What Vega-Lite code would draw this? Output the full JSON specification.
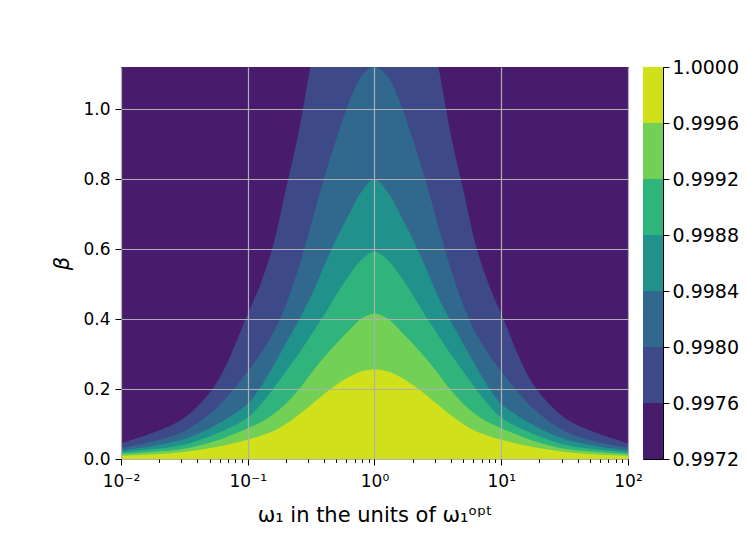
{
  "$schema": "https://vega.github.io/schema/vega-lite/v6.json",
  "padding": {"left": 51, "top": 57, "right": 0, "bottom": 0},
  "bounds": "flush",
  "spacing": 15,
  "config": {
    "font": "DejaVu Sans",
    "view": {"stroke": "#000000", "strokeWidth": 1},
    "axis": {"domain": false, "tickColor": "#000000", "tickWidth": 1, "tickSize": 6, "labelColor": "#000000", "labelPadding": 5, "titleColor": "#000000", "titleFontWeight": "normal"}
  },
  "datasets": {
    "contours": [
      {"l":"L0","w":0.01,"b":1.12},{"l":"L0","w":100,"b":1.12},
      {"l":"L1","w":0.01,"b":0.045},{"l":"L1","w":0.017783,"b":0.075},{"l":"L1","w":0.031623,"b":0.118},{"l":"L1","w":0.056234,"b":0.215},{"l":"L1","w":0.1,"b":0.415},{"l":"L1","w":0.12589,"b":0.50},{"l":"L1","w":0.15849,"b":0.61},{"l":"L1","w":0.19953,"b":0.77},{"l":"L1","w":0.25119,"b":0.93},{"l":"L1","w":0.31623,"b":1.13},{"l":"L1","w":0.39811,"b":1.3},{"l":"L1","w":0.50119,"b":1.3},{"l":"L1","w":0.63096,"b":1.3},{"l":"L1","w":0.79433,"b":1.3},{"l":"L1","w":1,"b":1.3},{"l":"L1","w":1.2589,"b":1.3},{"l":"L1","w":1.5849,"b":1.3},{"l":"L1","w":1.9953,"b":1.3},{"l":"L1","w":2.5119,"b":1.3},{"l":"L1","w":3.1623,"b":1.13},{"l":"L1","w":3.9811,"b":0.93},{"l":"L1","w":5.0119,"b":0.77},{"l":"L1","w":6.3096,"b":0.61},{"l":"L1","w":7.9433,"b":0.50},{"l":"L1","w":10,"b":0.415},{"l":"L1","w":17.783,"b":0.215},{"l":"L1","w":31.623,"b":0.118},{"l":"L1","w":56.234,"b":0.075},{"l":"L1","w":100,"b":0.045},
      {"l":"L2","w":0.01,"b":0.032},{"l":"L2","w":0.017783,"b":0.050},{"l":"L2","w":0.031623,"b":0.080},{"l":"L2","w":0.056234,"b":0.145},{"l":"L2","w":0.1,"b":0.25},{"l":"L2","w":0.12589,"b":0.30},{"l":"L2","w":0.15849,"b":0.36},{"l":"L2","w":0.19953,"b":0.44},{"l":"L2","w":0.25119,"b":0.545},{"l":"L2","w":0.31623,"b":0.67},{"l":"L2","w":0.39811,"b":0.80},{"l":"L2","w":0.50119,"b":0.915},{"l":"L2","w":0.63096,"b":1.02},{"l":"L2","w":0.79433,"b":1.095},{"l":"L2","w":1,"b":1.12},{"l":"L2","w":1.2589,"b":1.095},{"l":"L2","w":1.5849,"b":1.02},{"l":"L2","w":1.9953,"b":0.915},{"l":"L2","w":2.5119,"b":0.80},{"l":"L2","w":3.1623,"b":0.67},{"l":"L2","w":3.9811,"b":0.545},{"l":"L2","w":5.0119,"b":0.44},{"l":"L2","w":6.3096,"b":0.36},{"l":"L2","w":7.9433,"b":0.30},{"l":"L2","w":10,"b":0.25},{"l":"L2","w":17.783,"b":0.145},{"l":"L2","w":31.623,"b":0.080},{"l":"L2","w":56.234,"b":0.050},{"l":"L2","w":100,"b":0.032},
      {"l":"L3","w":0.01,"b":0.024},{"l":"L3","w":0.017783,"b":0.037},{"l":"L3","w":0.031623,"b":0.057},{"l":"L3","w":0.056234,"b":0.098},{"l":"L3","w":0.1,"b":0.158},{"l":"L3","w":0.12589,"b":0.205},{"l":"L3","w":0.15849,"b":0.265},{"l":"L3","w":0.19953,"b":0.33},{"l":"L3","w":0.25119,"b":0.395},{"l":"L3","w":0.31623,"b":0.465},{"l":"L3","w":0.39811,"b":0.55},{"l":"L3","w":0.50119,"b":0.63},{"l":"L3","w":0.63096,"b":0.70},{"l":"L3","w":0.79433,"b":0.765},{"l":"L3","w":1,"b":0.80},{"l":"L3","w":1.2589,"b":0.765},{"l":"L3","w":1.5849,"b":0.70},{"l":"L3","w":1.9953,"b":0.63},{"l":"L3","w":2.5119,"b":0.55},{"l":"L3","w":3.1623,"b":0.465},{"l":"L3","w":3.9811,"b":0.395},{"l":"L3","w":5.0119,"b":0.33},{"l":"L3","w":6.3096,"b":0.265},{"l":"L3","w":7.9433,"b":0.205},{"l":"L3","w":10,"b":0.158},{"l":"L3","w":17.783,"b":0.098},{"l":"L3","w":31.623,"b":0.057},{"l":"L3","w":56.234,"b":0.037},{"l":"L3","w":100,"b":0.024},
      {"l":"L4","w":0.01,"b":0.019},{"l":"L4","w":0.017783,"b":0.028},{"l":"L4","w":0.031623,"b":0.041},{"l":"L4","w":0.056234,"b":0.072},{"l":"L4","w":0.1,"b":0.118},{"l":"L4","w":0.12589,"b":0.155},{"l":"L4","w":0.15849,"b":0.20},{"l":"L4","w":0.19953,"b":0.25},{"l":"L4","w":0.25119,"b":0.30},{"l":"L4","w":0.31623,"b":0.355},{"l":"L4","w":0.39811,"b":0.41},{"l":"L4","w":0.50119,"b":0.47},{"l":"L4","w":0.63096,"b":0.525},{"l":"L4","w":0.79433,"b":0.57},{"l":"L4","w":1,"b":0.592},{"l":"L4","w":1.2589,"b":0.57},{"l":"L4","w":1.5849,"b":0.525},{"l":"L4","w":1.9953,"b":0.47},{"l":"L4","w":2.5119,"b":0.41},{"l":"L4","w":3.1623,"b":0.355},{"l":"L4","w":3.9811,"b":0.30},{"l":"L4","w":5.0119,"b":0.25},{"l":"L4","w":6.3096,"b":0.20},{"l":"L4","w":7.9433,"b":0.155},{"l":"L4","w":10,"b":0.118},{"l":"L4","w":17.783,"b":0.072},{"l":"L4","w":31.623,"b":0.041},{"l":"L4","w":56.234,"b":0.028},{"l":"L4","w":100,"b":0.019},
      {"l":"L5","w":0.01,"b":0.014},{"l":"L5","w":0.017783,"b":0.020},{"l":"L5","w":0.031623,"b":0.029},{"l":"L5","w":0.056234,"b":0.052},{"l":"L5","w":0.1,"b":0.088},{"l":"L5","w":0.12589,"b":0.104},{"l":"L5","w":0.15849,"b":0.127},{"l":"L5","w":0.19953,"b":0.158},{"l":"L5","w":0.25119,"b":0.197},{"l":"L5","w":0.31623,"b":0.245},{"l":"L5","w":0.39811,"b":0.29},{"l":"L5","w":0.50119,"b":0.33},{"l":"L5","w":0.63096,"b":0.368},{"l":"L5","w":0.79433,"b":0.402},{"l":"L5","w":1,"b":0.416},{"l":"L5","w":1.2589,"b":0.402},{"l":"L5","w":1.5849,"b":0.368},{"l":"L5","w":1.9953,"b":0.33},{"l":"L5","w":2.5119,"b":0.29},{"l":"L5","w":3.1623,"b":0.245},{"l":"L5","w":3.9811,"b":0.197},{"l":"L5","w":5.0119,"b":0.158},{"l":"L5","w":6.3096,"b":0.127},{"l":"L5","w":7.9433,"b":0.104},{"l":"L5","w":10,"b":0.088},{"l":"L5","w":17.783,"b":0.052},{"l":"L5","w":31.623,"b":0.029},{"l":"L5","w":56.234,"b":0.020},{"l":"L5","w":100,"b":0.014},
      {"l":"L6","w":0.01,"b":0.009},{"l":"L6","w":0.017783,"b":0.013},{"l":"L6","w":0.031623,"b":0.020},{"l":"L6","w":0.056234,"b":0.034},{"l":"L6","w":0.1,"b":0.055},{"l":"L6","w":0.12589,"b":0.066},{"l":"L6","w":0.15849,"b":0.079},{"l":"L6","w":0.19953,"b":0.10},{"l":"L6","w":0.25119,"b":0.126},{"l":"L6","w":0.31623,"b":0.155},{"l":"L6","w":0.39811,"b":0.185},{"l":"L6","w":0.50119,"b":0.212},{"l":"L6","w":0.63096,"b":0.235},{"l":"L6","w":0.79433,"b":0.251},{"l":"L6","w":1,"b":0.256},{"l":"L6","w":1.2589,"b":0.251},{"l":"L6","w":1.5849,"b":0.235},{"l":"L6","w":1.9953,"b":0.212},{"l":"L6","w":2.5119,"b":0.185},{"l":"L6","w":3.1623,"b":0.155},{"l":"L6","w":3.9811,"b":0.126},{"l":"L6","w":5.0119,"b":0.10},{"l":"L6","w":6.3096,"b":0.079},{"l":"L6","w":7.9433,"b":0.066},{"l":"L6","w":10,"b":0.055},{"l":"L6","w":17.783,"b":0.034},{"l":"L6","w":31.623,"b":0.020},{"l":"L6","w":56.234,"b":0.013},{"l":"L6","w":100,"b":0.009}
    ],
    "bands": [
      {"l":"L0","bar":"cb","lo":0.9972,"hi":0.9976},
      {"l":"L1","bar":"cb","lo":0.9976,"hi":0.9980},
      {"l":"L2","bar":"cb","lo":0.9980,"hi":0.9984},
      {"l":"L3","bar":"cb","lo":0.9984,"hi":0.9988},
      {"l":"L4","bar":"cb","lo":0.9988,"hi":0.9992},
      {"l":"L5","bar":"cb","lo":0.9992,"hi":0.9996},
      {"l":"L6","bar":"cb","lo":0.9996,"hi":1.0}
    ]
  },
  "hconcat": [
    {
      "width": 507,
      "height": 392,
      "data": {"name": "contours"},
      "encoding": {
        "x": {
          "field": "w", "type": "quantitative",
          "scale": {"type": "log", "domain": [0.01, 100], "nice": false},
          "axis": {
            "values": [0.01,0.02,0.03,0.04,0.05,0.06,0.07,0.08,0.09,0.1,0.2,0.3,0.4,0.5,0.6,0.7,0.8,0.9,1,2,3,4,5,6,7,8,9,10,20,30,40,50,60,70,80,90,100],
            "labelExpr": "datum.value == 0.01 ? '10⁻²' : datum.value == 0.1 ? '10⁻¹' : datum.value == 1 ? '10⁰' : datum.value == 10 ? '10¹' : datum.value == 100 ? '10²' : ''",
            "tickSize": {"condition": {"test": "indexof([0.01,0.1,1,10,100], datum.value) >= 0", "value": 6}, "value": 3.5},
            "gridOpacity": {"condition": {"test": "indexof([0.01,0.1,1,10,100], datum.value) >= 0", "value": 1}, "value": 0},
            "grid": true, "gridColor": "#b0b0b0", "gridWidth": 1.2,
            "labelFontSize": 17, "labelFlush": false, "labelOverlap": false, "labelPadding": 8,
            "title": "ω₁ in the units of ω₁ᵒᵖᵗ", "titleFontSize": 21, "titlePadding": 15,
            "zindex": 1
          }
        },
        "y": {
          "field": "b", "type": "quantitative", "stack": null,
          "scale": {"domain": [0, 1.12], "nice": false},
          "axis": {
            "values": [0, 0.2, 0.4, 0.6, 0.8, 1.0], "format": ".1f",
            "grid": true, "gridColor": "#b0b0b0", "gridWidth": 1.2,
            "labelFontSize": 17, "labelFlush": false,
            "title": "β", "titleFontSize": 21, "titleFontStyle": "italic", "titlePadding": 10,
            "zindex": 1
          }
        },
        "color": {
          "field": "l", "type": "nominal",
          "scale": {"domain": ["L0","L1","L2","L3","L4","L5","L6"], "range": ["#481b6d","#3e4989","#31688e","#21918c","#2fb47c","#73d056","#d0e11c"]},
          "legend": null
        }
      },
      "layer": [
        {"transform": [{"filter": "datum.l === 'L0'"}], "mark": {"type": "area", "clip": true}},
        {"transform": [{"filter": "datum.l === 'L1'"}], "mark": {"type": "area", "interpolate": "catmull-rom", "clip": true}},
        {"transform": [{"filter": "datum.l === 'L2'"}], "mark": {"type": "area", "interpolate": "catmull-rom", "clip": true}},
        {"transform": [{"filter": "datum.l === 'L3'"}], "mark": {"type": "area", "interpolate": "catmull-rom", "clip": true}},
        {"transform": [{"filter": "datum.l === 'L4'"}], "mark": {"type": "area", "interpolate": "catmull-rom", "clip": true}},
        {"transform": [{"filter": "datum.l === 'L5'"}], "mark": {"type": "area", "interpolate": "catmull-rom", "clip": true}},
        {"transform": [{"filter": "datum.l === 'L6'"}], "mark": {"type": "area", "interpolate": "catmull-rom", "clip": true}}
      ]
    },
    {
      "width": 20,
      "height": 392,
      "data": {"name": "bands"},
      "mark": {"type": "rect"},
      "encoding": {
        "x": {"field": "bar", "type": "nominal", "axis": null, "scale": {"paddingInner": 0, "paddingOuter": 0}},
        "y": {
          "field": "lo", "type": "quantitative",
          "scale": {"domain": [0.9972, 1.0], "nice": false, "zero": false},
          "axis": {
            "orient": "right",
            "values": [0.9972, 0.9976, 0.998, 0.9984, 0.9988, 0.9992, 0.9996, 1.0],
            "format": ".4f", "labelFontSize": 19, "labelPadding": 3, "labelFlush": false, "grid": false, "title": null
          }
        },
        "y2": {"field": "hi"},
        "color": {
          "field": "l", "type": "nominal",
          "scale": {"domain": ["L0","L1","L2","L3","L4","L5","L6"], "range": ["#481b6d","#3e4989","#31688e","#21918c","#2fb47c","#73d056","#d0e11c"]},
          "legend": null
        }
      }
    }
  ]
}
